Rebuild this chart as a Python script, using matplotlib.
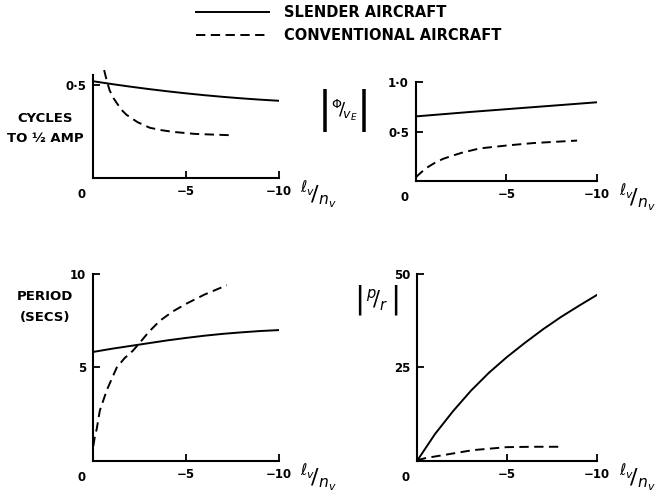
import matplotlib
matplotlib.use("Agg")
import matplotlib.pyplot as plt
from matplotlib.ticker import FixedLocator, FuncFormatter

# ---- data (x = lv/nv, runs 0 .. -10) ----
cyc_sl_x = [0, -1, -2, -3, -4, -5, -6, -7, -8, -9, -10]
cyc_sl_y = [0.52, 0.505, 0.491, 0.478, 0.466, 0.455, 0.445, 0.436, 0.428, 0.421, 0.415]
cyc_cv_x = [-0.6, -0.75, -0.9, -1.1, -1.3, -1.55, -1.8, -2.4, -3.06, -3.7, -4.3, -5.5, -7.4]
cyc_cv_y = [0.58, 0.52, 0.47, 0.43, 0.40, 0.365, 0.34, 0.30, 0.27, 0.257, 0.248, 0.237, 0.23]

phi_sl_x = [0, -1, -2, -3, -4, -5, -6, -7, -8, -9, -10]
phi_sl_y = [0.655, 0.67, 0.685, 0.70, 0.714, 0.728, 0.742, 0.756, 0.770, 0.784, 0.798]
phi_cv_x = [0, -0.3, -0.6, -1.0, -1.5, -1.9, -2.5, -3.5, -5, -6.5, -8.9]
phi_cv_y = [0.04, 0.09, 0.135, 0.18, 0.225, 0.25, 0.285, 0.33, 0.36, 0.385, 0.41]

per_sl_x = [0, -1, -2, -3, -4, -5, -6, -7, -8, -9, -10]
per_sl_y = [5.83, 6.0, 6.15, 6.3, 6.45, 6.58, 6.7, 6.8, 6.88, 6.95, 7.0]
per_cv_x = [-0.02, -0.1, -0.2, -0.37, -0.75, -1.28, -1.7, -2.15, -2.5, -3.0, -3.6, -4.3, -5, -6, -7.2]
per_cv_y = [0.8, 1.3, 1.7, 2.7, 3.8, 5.0, 5.5, 5.9, 6.3, 6.9, 7.5, 8.0, 8.4, 8.9, 9.4]

pr_sl_x = [0, -1, -2, -3, -4, -5, -6, -7, -8, -9, -10]
pr_sl_y = [0, 7.2, 13.3, 18.8, 23.6, 27.8, 31.6, 35.2, 38.5, 41.5, 44.4]
pr_cv_x = [0, -0.5, -1.5, -3.1, -5, -6.5, -8]
pr_cv_y = [0.2, 0.8, 1.6, 2.9, 3.7, 3.8, 3.8]

x_ticks = [-5, -10]
x_ticklabels = ["\u22125", "\u221210"]

plt.rcParams['font.family'] = ['DejaVu Sans']
LW = 1.4
DASH = (4.8, 2.8)
TXT = dict(fontsize=9.5, fontweight='bold')


def dotted(v, pos):
    s = f"{v:g}" if v >= 2 else f"{v:.1f}"
    return s.replace(".", "\u00b7")


def setup(ax, ylim, yticks, xlab_pos):
    ax.set_xlim(0, -10)
    ax.set_ylim(*ylim)
    for s in ("top", "right"):
        ax.spines[s].set_visible(False)
    for s in ("left", "bottom"):
        ax.spines[s].set_linewidth(1.5)
    ax.xaxis.set_major_locator(FixedLocator(x_ticks))
    ax.set_xticklabels(x_ticklabels)
    ax.yaxis.set_major_locator(FixedLocator(yticks))
    ax.yaxis.set_major_formatter(FuncFormatter(dotted))
    ax.tick_params(direction='in', length=5, width=1.3, labelsize=8.5, pad=5)
    for lab in ax.get_xticklabels() + ax.get_yticklabels():
        lab.set_fontweight('bold')
    ax.annotate("0", xy=(0, 0), xycoords='data', xytext=(-8, -7),
                textcoords='offset points', ha='center', va='top',
                fontsize=8.5, fontweight='bold', annotation_clip=False)
    ax.annotate(r"$^{\ell_v}\!/_{n_v}$", xy=(-10, 0), xycoords='data',
                xytext=xlab_pos, textcoords='offset points',
                fontsize=16, ha='left', va='center', annotation_clip=False)


def abs_label(xl, xr, xc, yc, body, bar_size, body_size):
    for xb in (xl, xr):
        fig.text(xb / 664, 1 - yc / 496, "|", ha='center', va='center',
                 fontsize=bar_size)
    fig.text(xc / 664, 1 - yc / 496, body, ha='center', va='center',
             fontsize=body_size)


fig = plt.figure(figsize=(6.64, 4.96), dpi=100)

ax1 = fig.add_axes([0.140, 0.641, 0.280, 0.208])
ax2 = fig.add_axes([0.6265, 0.635, 0.2726, 0.199])
ax3 = fig.add_axes([0.140, 0.0706, 0.280, 0.377])
ax4 = fig.add_axes([0.628, 0.0706, 0.271, 0.377])

setup(ax1, (0, 0.554), [0.5], (15, -12))
setup(ax2, (0, 1.0), [0.5, 1.0], (16, -12))
setup(ax3, (0, 10), [5, 10], (15, -12))
setup(ax4, (0, 50), [25, 50], (16, -12))

l_sl, = ax1.plot(cyc_sl_x, cyc_sl_y, color='black', lw=LW)
l_cv, = ax1.plot(cyc_cv_x, cyc_cv_y, color='black', lw=LW, dashes=DASH, clip_on=False)
ax2.plot(phi_sl_x, phi_sl_y, color='black', lw=LW)
ax2.plot(phi_cv_x, phi_cv_y, color='black', lw=LW, dashes=DASH)
ax3.plot(per_sl_x, per_sl_y, color='black', lw=LW)
ax3.plot(per_cv_x, per_cv_y, color='black', lw=LW, dashes=DASH)
ax4.plot(pr_sl_x, pr_sl_y, color='black', lw=LW)
ax4.plot(pr_cv_x, pr_cv_y, color='black', lw=LW, dashes=DASH)

# axis titles sitting left of each panel
fig.text(45 / 664, 1 - 129 / 496, "CYCLES\nTO \u00bd AMP", ha='center', va='center',
         linespacing=1.7, **TXT)
fig.text(45 / 664, 1 - 307 / 496, "PERIOD\n(SECS)", ha='center', va='center',
         linespacing=1.7, **TXT)
abs_label(325, 364, 344, 110, r"$^{\Phi}\!/_{\!v_E}$", 30, 13)
abs_label(359, 395, 377, 300, r"$^{p}\!/_{r}$", 22, 15)

fig.legend([l_sl, l_cv], ["SLENDER AIRCRAFT", "CONVENTIONAL AIRCRAFT"],
           loc='upper left', bbox_to_anchor=(196 / 664, 1 - 5 / 496),
           frameon=False, handlelength=5.0, handletextpad=1.0,
           borderpad=0, borderaxespad=0, labelspacing=0.55,
           prop=dict(size=10.5, weight='bold'))

fig.savefig("out.png", dpi=100)
